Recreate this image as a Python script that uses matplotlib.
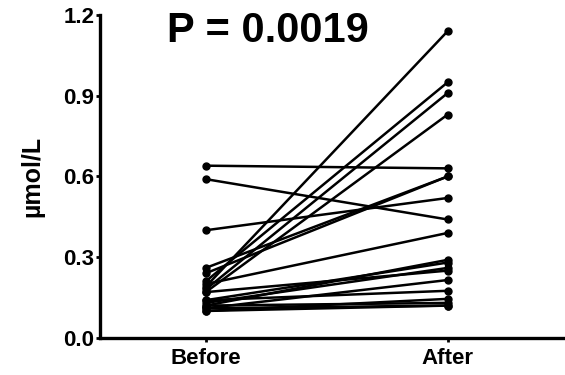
import matplotlib.pyplot as plt

# paired measurements (µmol/L)
before = [0.64, 0.59, 0.40, 0.19, 0.21, 0.18, 0.17, 0.26, 0.24, 0.20,
          0.12, 0.14, 0.13, 0.17, 0.11, 0.14, 0.10, 0.12, 0.11, 0.10]
after = [0.63, 0.44, 0.52, 1.14, 0.95, 0.91, 0.83, 0.60, 0.60, 0.39,
         0.29, 0.28, 0.26, 0.25, 0.215, 0.175, 0.145, 0.13, 0.12, 0.12]
groups = ["Before", "After"]
p_text = "P = 0.0019"

plt.rcParams["font.family"] = ["Liberation Sans", "DejaVu Sans"]
plt.rcParams["font.weight"] = "bold"

fig = plt.figure(figsize=(5.65, 3.75), dpi=100)
ax = fig.add_axes([0.177, 0.099, 0.823, 0.861])

for b, a in zip(before, after):
    ax.plot([0, 1], [b, a], color="black", lw=1.8, marker="o", ms=5,
            solid_capstyle="round", clip_on=False)

ax.set_xlim(-0.437, 1.485)
ax.set_ylim(0, 1.2)
ax.set_xticks([0, 1])
ax.set_xticklabels(groups, fontsize=16, fontweight="bold")
ax.set_yticks([0, 0.3, 0.6, 0.9, 1.2])
ax.set_yticklabels(["0.0", "0.3", "0.6", "0.9", "1.2"], fontsize=16, fontweight="bold")
ax.tick_params(axis="y", length=3, width=2, pad=1)
ax.tick_params(axis="x", length=3, width=2, pad=4)
ax.set_ylabel("µmol/L", fontsize=18, fontweight="bold", labelpad=14)

for s in ["top", "right"]:
    ax.spines[s].set_visible(False)
for s in ["left", "bottom"]:
    ax.spines[s].set_linewidth(2.4)

fig.text(0.295, 0.887, p_text, fontsize=30, fontweight="bold", ha="left", va="baseline")

fig.savefig("out.png", dpi=100)
